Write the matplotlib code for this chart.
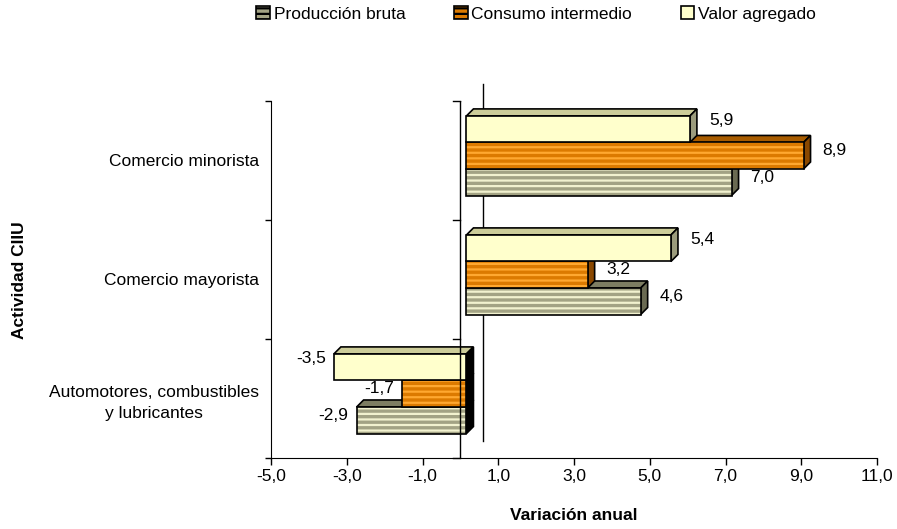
import numpy as np
import matplotlib
matplotlib.use('Agg')
import matplotlib.pyplot as plt
from matplotlib.patches import Patch

plt.rcParams['font.family'] = ['Liberation Sans', 'DejaVu Sans']
plt.rcParams['font.size'] = 12.5
plt.rcParams['hatch.linewidth'] = 1.6

# datos
categorias = ['Automotores, combustibles\ny lubricantes', 'Comercio mayorista', 'Comercio minorista']
series = ['Producción bruta', 'Consumo intermedio', 'Valor agregado']
produccion_bruta = [-2.9, 4.6, 7.0]
consumo_intermedio = [-1.7, 3.2, 8.9]
valor_agregado = [-3.5, 5.4, 5.9]
x_ticks = [-5, -3, -1, 1, 3, 5, 7, 9, 11]

valores = [produccion_bruta, consumo_intermedio, valor_agregado]
# estilo de cada serie: frente, rayado, cara superior, cara lateral
frente = ['#a3a384', '#dc7a00', '#ffffcc']
rayado = ['#f2f2cf', '#ffa830', None]
superior = ['#7d7d62', '#a85c00', '#cccc99']
lateral = ['#6a6a52', '#8a4800', '#9b9b7c']

h = 0.223      # alto de cada barra (unidades de categoria)
fx, fy = 0.16, 0.04    # desplazamiento de la cara frontal
dx, dy = 0.185, 0.059  # profundidad 3D

fig = plt.figure(figsize=(8.97, 5.29), dpi=100)
ax = fig.add_axes([271/897, 71/529, (877-271)/897, (458-101)/529])
ax.set_xlim(-5, 11)
ax.set_ylim(-0.5, 2.5)

# linea de cero del fondo
ax.plot([fx + 2.43*dx, fx + 2.43*dx], [-0.5 + 2.43*dy, 2.5 + 2.43*dy], color='black', lw=1,
        zorder=1, clip_on=False)

z = 2
for c in range(len(categorias)):
    for s in range(len(series)):
        v = valores[s][c]
        y0 = c + (s - 1.5) * h + fy
        y1 = y0 + h
        x0, x1 = fx, v + fx
        xl, xr = min(x0, x1), max(x0, x1)
        # cara superior
        ax.fill([xl, xr, xr + dx, xl + dx], [y1, y1, y1 + dy, y1 + dy],
                facecolor=superior[s], edgecolor='black', lw=1.2, zorder=z)
        # cara lateral derecha
        col = lateral[s] if v > 0 else 'black'
        ax.fill([xr, xr + dx, xr + dx, xr], [y0, y0 + dy, y1 + dy, y1],
                facecolor=col, edgecolor='black', lw=1.2, zorder=z)
        # cara frontal
        if rayado[s]:
            ax.fill([xl, xr, xr, xl], [y0, y0, y1, y1], facecolor=frente[s],
                    edgecolor=rayado[s], hatch='---', lw=0, zorder=z)
            ax.fill([xl, xr, xr, xl], [y0, y0, y1, y1], fill=False,
                    edgecolor='black', lw=1.2, zorder=z)
        else:
            ax.fill([xl, xr, xr, xl], [y0, y0, y1, y1], facecolor=frente[s],
                    edgecolor='black', lw=1.2, zorder=z)
        z += 1
        # etiqueta
        txt = f'{v:.1f}'.replace('.', ',')
        yoff = 9 if s == 2 else 5
        if v > 0:
            ax.annotate(txt, (xr + dx, (y0 + y1) / 2), xytext=(12, yoff),
                        textcoords='offset pixels', ha='left', va='center', zorder=20)
        else:
            ax.annotate(txt, (xl, (y0 + y1) / 2), xytext=(-8, yoff),
                        textcoords='offset pixels', ha='right', va='center', zorder=20)

# linea de cero frontal con marcas
ax.axvline(0, color='black', lw=1, zorder=15)
for b in [-0.5, 0.5, 1.5, 2.5]:
    ax.plot([-0.2, 0], [b, b], color='black', lw=1, zorder=15, clip_on=False)

ax.spines['top'].set_visible(False)
ax.spines['right'].set_visible(False)
ax.set_xticks(x_ticks)
ax.set_xticklabels([f'{t:.1f}'.replace('.', ',') for t in x_ticks])
ax.tick_params(axis='x', direction='out', length=5, width=1, pad=3)
ax.set_yticks(range(len(categorias)))
ax.set_yticklabels(categorias, multialignment='center', linespacing=1.5)
ax.tick_params(axis='y', which='major', length=0, pad=8.5)
ax.set_yticks([-0.5, 0.5, 1.5, 2.5], minor=True)
ax.tick_params(axis='y', which='minor', direction='out', length=4.5, width=1)

fig.text(574/897, 1 - 515/529, 'Variación anual', ha='center', va='center', fontweight='bold')
fig.text(20/897, 1 - 280/529, 'Actividad CIIU', ha='center', va='center', rotation=90,
         fontweight='bold')

handles = []
for s in range(len(series)):
    handles.append(Patch(facecolor=frente[s], edgecolor='black', lw=1.2,
                         hatch='---' if rayado[s] else None, label=series[s]))
fig.legend(handles=handles, ncol=3, loc='center', bbox_to_anchor=(536/897, 1 - 14/529),
           frameon=False, handlelength=0.8, handleheight=0.8, handletextpad=0.2,
           columnspacing=2.8, borderpad=0)

fig.savefig('out.png', dpi=100)
